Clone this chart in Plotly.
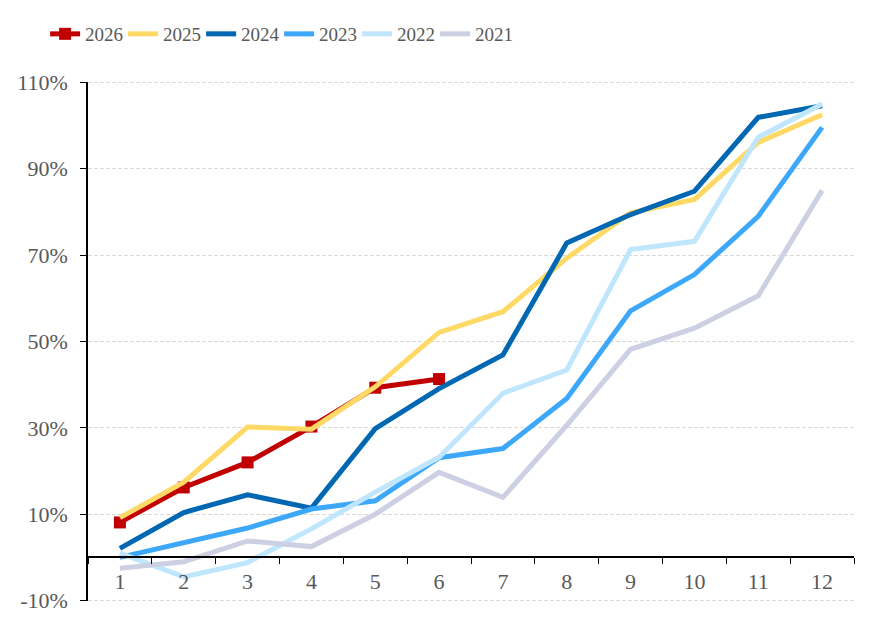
import plotly.graph_objects as go

months = [str(i) for i in range(1, 13)]
y2026 = [8.1, 16.2, 22.0, 30.3, 39.3, 41.3]
y2025 = [9.2, 17.4, 30.2, 29.7, 39.5, 52.1, 56.9, 69.3, 79.8, 82.9, 96.1, 102.5]
y2024 = [2.1, 10.4, 14.5, 11.4, 29.8, 39.1, 46.9, 72.8, 79.4, 84.8, 101.9, 104.6]
y2023 = [0.0, 3.4, 6.8, 11.2, 13.1, 23.1, 25.2, 36.8, 57.1, 65.5, 79.0, 99.6]
y2022 = [1.0, -4.5, -1.2, 6.6, 15.1, 23.2, 38.0, 43.4, 71.3, 73.2, 97.3, 105.0]
y2021 = [-2.5, -1.0, 3.8, 2.5, 10.0, 19.7, 13.9, 30.6, 48.2, 53.1, 60.6, 85.0]
ytick_vals = [-10, 10, 30, 50, 70, 90, 110]
ytick_text = ["-10%", "10%", "30%", "50%", "70%", "90%", "110%"]

series = [
    ("2026", y2026, "#C00000"),
    ("2025", y2025, "#FFD966"),
    ("2024", y2024, "#0067B3"),
    ("2023", y2023, "#3DA8FA"),
    ("2022", y2022, "#BFE6FD"),
    ("2021", y2021, "#CDD0E3"),
]

FONT = "Liberation Serif"
GREY = "#595959"
GRID = "#D9D9D9"

fig = go.Figure()
for name, vals, col in series:
    if name == "2026":
        fig.add_trace(go.Scatter(
            x=months[:len(vals)], y=vals, name=name, mode="lines+markers",
            line=dict(color=col, width=5),
            marker=dict(symbol="square", size=12, color=col)))
    else:
        fig.add_trace(go.Scatter(
            x=months[:len(vals)], y=vals, name=name, mode="lines",
            line=dict(color=col, width=5)))

# edge gridlines (plotly culls gridlines on the plot border)
for v in (ytick_vals[0], ytick_vals[-1]):
    fig.add_shape(type="line", xref="paper", x0=0, x1=1, yref="y", y0=v, y1=v,
                  line=dict(color=GRID, width=1, dash="4px,2px"), layer="below")

fig.update_layout(
    width=882, height=628,
    margin=dict(l=88, r=28, t=82, b=27),
    plot_bgcolor="white", paper_bgcolor="white",
    font=dict(family=FONT, color=GREY, size=21),
    showlegend=True,
    legend=dict(orientation="h", x=-0.056, xanchor="left", y=1.0925, yanchor="middle",
                font=dict(family=FONT, size=19, color=GREY),
                entrywidth=33, itemwidth=30, traceorder="normal", bgcolor="rgba(0,0,0,0)"),
    xaxis=dict(type="category", categoryorder="array", categoryarray=months,
               range=[-0.5, 11.5], anchor="free", position=10.1/120.2,
               showline=True, linecolor="black", linewidth=1.5,
               ticks="outside", tickson="boundaries", ticklen=6, tickcolor="black",
               showgrid=False, zeroline=False, ticklabelstandoff=4,
               tickfont=dict(family=FONT, size=22, color=GREY)),
    yaxis=dict(range=[-10.1, 110.1], tickmode="array", tickvals=ytick_vals, ticktext=ytick_text,
               showline=True, linecolor="black", linewidth=1.5,
               ticks="outside", ticklen=6, tickcolor="black",
               showgrid=True, gridcolor=GRID, gridwidth=1, griddash="4px,2px",
               zeroline=False, ticklabelstandoff=8,
               tickfont=dict(family=FONT, size=22, color=GREY)),
)

fig.write_html("out.html")
